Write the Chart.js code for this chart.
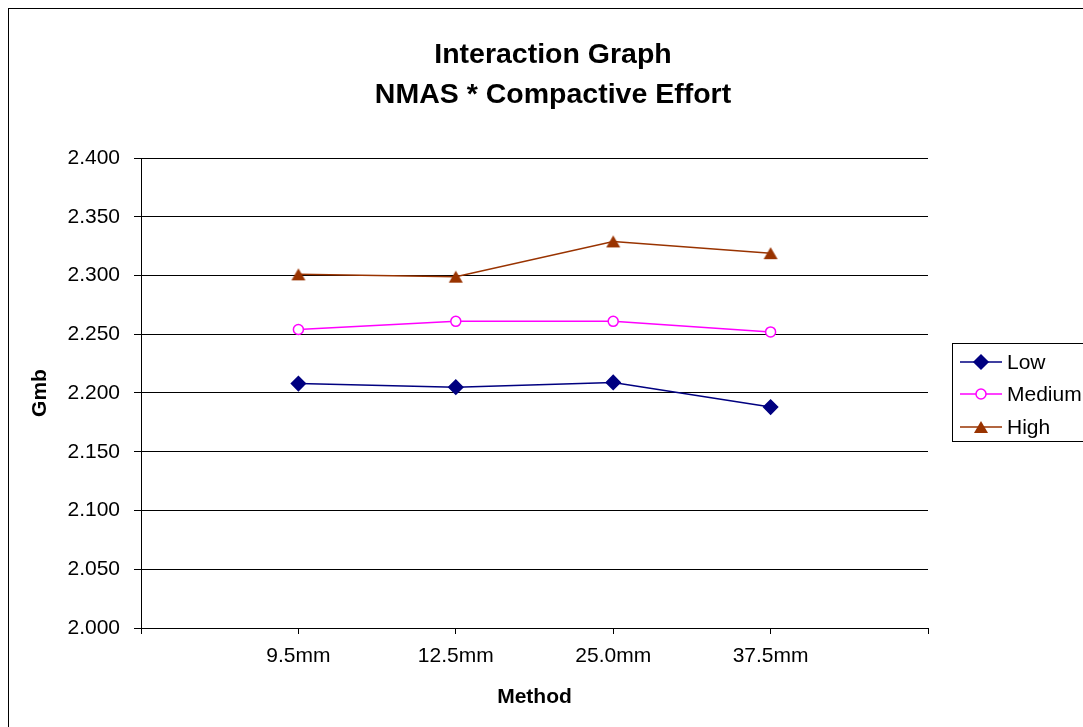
<!DOCTYPE html>
<html>
<head>
<meta charset="utf-8">
<script src="https://cdn.jsdelivr.net/npm/chart.js@4.4.0/dist/chart.umd.min.js"></script>
<style>
  html, body { margin: 0; padding: 0; background: #fff; overflow: hidden; }
  #wrap { width: 1083px; height: 727px; overflow: hidden; position: relative; }
  canvas { display: block; }
</style>
</head>
<body>
<div id="wrap"><canvas id="c" width="1106" height="727"></canvas></div>
<script>
// ---- data ----
const titleLines = ['Interaction Graph', 'NMAS * Compactive Effort'];
const categories = ['9.5mm', '12.5mm', '25.0mm', '37.5mm'];
const seriesNames = ['Low', 'Medium', 'High'];
const lowValues = [2.208, 2.205, 2.209, 2.188];
const mediumValues = [2.254, 2.261, 2.261, 2.252];
const highValues = [2.301, 2.299, 2.329, 2.319];
const yTickMin = 2.0, yTickMax = 2.4, yTickStep = 0.05;
const xTitle = 'Method';
const yTitle = 'Gmb';

const FONT = "'Liberation Sans', Arial, sans-serif";
Chart.defaults.color = '#000';
Chart.defaults.font.family = FONT;

function toPoints(vals) { return vals.map((v, i) => ({ x: i + 1, y: v })); }

// triangle marker centred on its bounding box (as in the reference)
function makeTriangle(color) {
  const c = document.createElement('canvas');
  c.width = 16; c.height = 14;
  const g = c.getContext('2d');
  g.fillStyle = color;
  g.beginPath();
  g.moveTo(8, 1);
  g.lineTo(15, 13);
  g.lineTo(1, 13);
  g.closePath();
  g.fill();
  return c;
}

const styles = [
  { color: '#000080', pointStyle: 'rectRot', radius: 7, bg: '#000080' },
  { color: '#FF00FF', pointStyle: 'circle', radius: 5, bg: '#FFFFFF' },
  { color: '#993300', pointStyle: makeTriangle('#993300'), radius: 8, bg: '#993300' }
];
const allValues = [lowValues, mediumValues, highValues];

const datasets = seriesNames.map((name, i) => ({
  label: name,
  data: toPoints(allValues[i]),
  borderColor: styles[i].color,
  backgroundColor: styles[i].bg,
  borderWidth: 1.5,
  pointStyle: styles[i].pointStyle,
  pointRadius: styles[i].radius,
  pointHoverRadius: styles[i].radius,
  pointBorderColor: styles[i].color,
  pointBackgroundColor: styles[i].bg,
  pointBorderWidth: 1.5,
  tension: 0,
  fill: false,
  clip: false
}));

const framePlugin = {
  id: 'frame',
  beforeDraw(chart) {
    const ctx = chart.ctx;
    ctx.save();
    ctx.fillStyle = '#fff';
    ctx.fillRect(0, 0, chart.width, chart.height);
    ctx.strokeStyle = '#000';
    ctx.lineWidth = 1;
    ctx.strokeRect(8.5, 8.5, chart.width - 9 - 8, chart.height + 20);
    ctx.restore();
  }
};

const legendPlugin = {
  id: 'boxLegend',
  afterDraw(chart) {
    const ctx = chart.ctx;
    ctx.save();
    const bx = 952.5, by = 343.5, bw = 146, bh = 98;
    ctx.fillStyle = '#fff';
    ctx.fillRect(bx, by, bw, bh);
    ctx.strokeStyle = '#000';
    ctx.lineWidth = 1;
    ctx.strokeRect(bx, by, bw, bh);
    const ys = [362, 394, 427];
    chart.data.datasets.forEach((ds, i) => {
      const y = ys[i];
      ctx.strokeStyle = ds.borderColor;
      ctx.lineWidth = ds.borderWidth;
      ctx.beginPath();
      ctx.moveTo(960, y);
      ctx.lineTo(1002, y);
      ctx.stroke();
      ctx.fillStyle = ds.pointBackgroundColor;
      ctx.strokeStyle = ds.pointBorderColor;
      ctx.lineWidth = ds.pointBorderWidth;
      Chart.helpers.drawPoint(ctx, { pointStyle: ds.pointStyle, radius: ds.pointRadius, rotation: 0, borderWidth: ds.pointBorderWidth }, 981, y);
      ctx.fillStyle = '#000';
      ctx.font = '21px ' + FONT;
      ctx.textAlign = 'left';
      ctx.textBaseline = 'middle';
      ctx.fillText(ds.label, 1007, y + 1);
    });
    ctx.restore();
  }
};

new Chart(document.getElementById('c'), {
  type: 'line',
  data: { datasets },
  options: {
    responsive: false,
    animation: false,
    devicePixelRatio: 1,
    layout: { padding: { left: 0, right: 0, top: 0, bottom: 0 } },
    plugins: {
      legend: { display: false },
      tooltip: { enabled: false },
      title: {
        display: true,
        text: titleLines,
        color: '#000',
        font: { family: FONT, size: 28.5, weight: 'bold', lineHeight: 40 / 28.5 },
        padding: { top: 35, bottom: 43 }
      }
    },
    scales: {
      x: {
        type: 'linear',
        min: 0,
        max: categories.length + 1,
        position: 'bottom',
        afterFit(s) { s.height = 99; },
        ticks: {
          stepSize: 1,
          autoSkip: false,
          maxRotation: 0,
          padding: 10,
          color: '#000',
          font: { family: FONT, size: 21 },
          callback: (v) => categories[v - 1] !== undefined ? categories[v - 1] : ''
        },
        grid: { drawOnChartArea: false, drawTicks: true, tickLength: 6, color: '#000', lineWidth: 1 },
        border: { display: true, color: '#000', width: 1 },
        title: { display: true, text: xTitle, color: '#000', font: { family: FONT, size: 21, weight: 'bold' }, padding: { top: 0, bottom: 17 } }
      },
      y: {
        type: 'linear',
        position: 'left',
        min: yTickMin,
        max: yTickMax,
        afterFit(s) { s.width = 141; },
        ticks: {
          stepSize: yTickStep,
          padding: 14,
          color: '#000',
          font: { family: FONT, size: 21 },
          callback: (v) => Number(v).toFixed(3)
        },
        grid: { color: '#000', lineWidth: 1, tickLength: 7, drawTicks: true },
        border: { display: true, color: '#000', width: 1 },
        title: { display: true, text: yTitle, color: '#000', font: { family: FONT, size: 21, weight: 'bold' }, padding: { top: 28, bottom: 0 } }
      },
      rightSpace: {
        type: 'linear',
        position: 'right',
        display: true,
        afterFit(s) { s.width = 178; },
        ticks: { display: false },
        grid: { display: false, drawTicks: false },
        border: { display: false }
      }
    }
  },
  plugins: [framePlugin, legendPlugin]
});
</script>
</body>
</html>
